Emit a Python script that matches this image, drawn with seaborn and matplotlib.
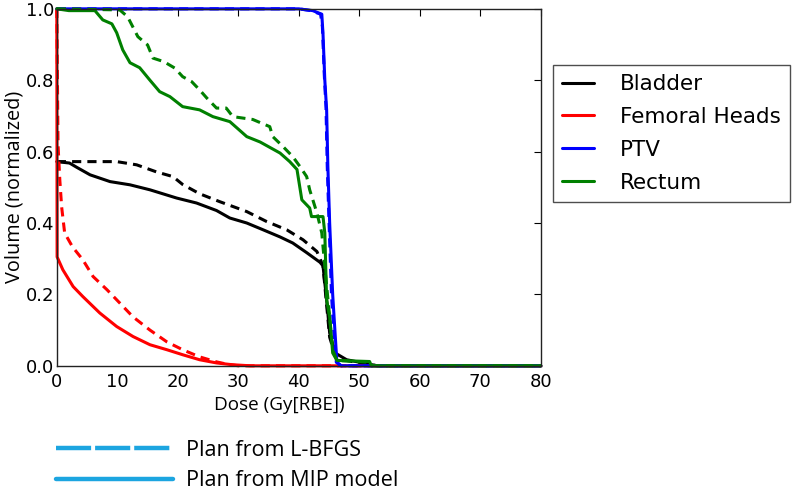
import pandas as pd
import matplotlib
matplotlib.use("Agg")
import matplotlib.pyplot as plt
from matplotlib.lines import Line2D
import seaborn as sns

# DVH curves: dose in Gy[RBE], volume normalized
bladder_mip_dose = [0, 2.1, 3.3, 5.5, 8.8, 12.1, 15.4, 19.8, 23.1, 26.4, 28.6, 31.4, 34.1, 36.9, 39, 41.3, 43.5, 44, 44.6, 45.1, 46, 47.9, 50.6, 53, 80]
bladder_mip_vol = [0.572, 0.568, 0.556, 0.535, 0.516, 0.507, 0.493, 0.47, 0.456, 0.435, 0.414, 0.40, 0.381, 0.361, 0.344, 0.317, 0.29, 0.28, 0.185, 0.092, 0.036, 0.017, 0.008, 0, 0]
bladder_lbfgs_dose = [0, 5, 9.9, 13.2, 16.5, 19.2, 20.8, 23.6, 26.9, 31.4, 34.7, 38, 40.7, 43, 44, 44.6, 45.1, 46, 47.9, 50.6, 53, 80]
bladder_lbfgs_vol = [0.572, 0.572, 0.572, 0.563, 0.543, 0.53, 0.508, 0.482, 0.46, 0.432, 0.404, 0.381, 0.353, 0.32, 0.28, 0.17, 0.08, 0.03, 0.015, 0.006, 0, 0]

femoral_mip_dose = [0, 0.05, 1, 2.7, 4.3, 7.1, 9.9, 12.6, 15.4, 18.2, 20.8, 23.6, 26.4, 29, 32, 80]
femoral_mip_vol = [1.0, 0.305, 0.269, 0.222, 0.194, 0.148, 0.11, 0.082, 0.059, 0.045, 0.031, 0.017, 0.008, 0.003, 0, 0]
femoral_lbfgs_dose = [0, 0.2, 0.5, 0.8, 1.3, 2.6, 4.3, 6, 8.3, 10.4, 12.6, 15.4, 18.2, 20.8, 23.6, 26.4, 28, 30, 80]
femoral_lbfgs_vol = [1.0, 0.62, 0.52, 0.445, 0.372, 0.333, 0.297, 0.25, 0.213, 0.176, 0.137, 0.10, 0.067, 0.045, 0.025, 0.011, 0.005, 0, 0]

ptv_mip_dose = [0, 40, 42.3, 43.8, 44, 44.3, 44.6, 44.8, 45.1, 45.6, 46, 46.3, 47, 80]
ptv_mip_vol = [1.0, 1.0, 0.995, 0.985, 0.93, 0.80, 0.717, 0.56, 0.40, 0.2, 0.09, 0.01, 0, 0]
ptv_lbfgs_dose = [0, 40, 42, 43.6, 43.9, 44.2, 44.5, 44.7, 45, 45.4, 45.8, 46.2, 47, 80]
ptv_lbfgs_vol = [1.0, 1.0, 0.995, 0.985, 0.95, 0.82, 0.72, 0.56, 0.40, 0.2, 0.09, 0.01, 0, 0]

rectum_mip_dose = [0, 2, 6.3, 7.6, 9.1, 9.9, 10.9, 12.1, 13.7, 15.4, 17, 18.7, 20.8, 23.6, 25.8, 28.6, 31.4, 33.6, 36.9, 38.5, 39.7, 40.5, 41.8, 42.1, 44, 44.3, 44.6, 45.1, 45.6, 46.3, 51.7, 52, 80]
rectum_mip_vol = [1.0, 0.995, 0.995, 0.969, 0.958, 0.933, 0.885, 0.849, 0.835, 0.80, 0.768, 0.754, 0.726, 0.717, 0.698, 0.684, 0.642, 0.627, 0.596, 0.572, 0.55, 0.465, 0.442, 0.418, 0.418, 0.372, 0.185, 0.137, 0.036, 0.015, 0.012, 0, 0]
rectum_lbfgs_dose = [0, 10.4, 11.7, 13.4, 15, 15.9, 17.7, 19.5, 20.8, 22.3, 23.6, 24.8, 26.4, 28, 29.1, 32.4, 35.2, 35.7, 37.4, 39, 40.2, 41.3, 41.8, 43, 43.8, 44.3, 45.1, 45.6, 46.3, 51.5, 52, 80]
rectum_lbfgs_vol = [1.0, 0.997, 0.978, 0.922, 0.899, 0.862, 0.852, 0.834, 0.81, 0.796, 0.773, 0.75, 0.722, 0.722, 0.698, 0.69, 0.67, 0.642, 0.614, 0.586, 0.558, 0.53, 0.493, 0.428, 0.372, 0.277, 0.137, 0.045, 0.015, 0.01, 0, 0]

structures = ["Bladder", "Femoral Heads", "PTV", "Rectum"]
colors = {"Bladder": "black", "Femoral Heads": "red", "PTV": "blue", "Rectum": "green"}
plans = ["Plan from L-BFGS", "Plan from MIP model"]
plan_color = "#1ca5e0"

curves = [
    ("Bladder", "Plan from L-BFGS", bladder_lbfgs_dose, bladder_lbfgs_vol),
    ("Bladder", "Plan from MIP model", bladder_mip_dose, bladder_mip_vol),
    ("Femoral Heads", "Plan from L-BFGS", femoral_lbfgs_dose, femoral_lbfgs_vol),
    ("Femoral Heads", "Plan from MIP model", femoral_mip_dose, femoral_mip_vol),
    ("PTV", "Plan from L-BFGS", ptv_lbfgs_dose, ptv_lbfgs_vol),
    ("PTV", "Plan from MIP model", ptv_mip_dose, ptv_mip_vol),
    ("Rectum", "Plan from L-BFGS", rectum_lbfgs_dose, rectum_lbfgs_vol),
    ("Rectum", "Plan from MIP model", rectum_mip_dose, rectum_mip_vol),
]

rows = []
for s, p, d, v in curves:
    for i in range(len(d)):
        rows.append({"Structure": s, "Plan": p, "Dose": d[i], "Volume": v[i]})
df = pd.DataFrame(rows)

sns.set_style("white")
plt.rcParams["font.family"] = ["DejaVu Sans"]
plt.rcParams["xtick.direction"] = "in"
plt.rcParams["ytick.direction"] = "in"
plt.rcParams["text.color"] = "black"
plt.rcParams["axes.labelcolor"] = "black"
plt.rcParams["xtick.color"] = "black"
plt.rcParams["ytick.color"] = "black"

fig = plt.figure(figsize=(8, 4.91), dpi=100)
ax = fig.add_axes([0.071, 0.255, 0.605, 0.727])

sns.lineplot(data=df, x="Dose", y="Volume", hue="Structure", style="Plan",
             hue_order=structures, style_order=plans, palette=colors,
             dashes={"Plan from L-BFGS": (3, 2), "Plan from MIP model": ""},
             estimator=None, sort=False, linewidth=2.2, legend=False, ax=ax)
for ln in ax.get_lines():
    ln.set_clip_on(False)

ax.set_xlim(0, 80)
ax.set_ylim(0, 1)
ax.set_xticks(range(0, 81, 10))
ax.set_yticks([0, 0.2, 0.4, 0.6, 0.8, 1.0])
ax.tick_params(top=True, right=True, length=5, width=0.8, labelsize=13)
ax.tick_params(axis="x", pad=5)
ax.tick_params(axis="y", pad=2)
for sp in ax.spines.values():
    sp.set_color("#222222")
    sp.set_linewidth(1.0)
ax.set_xlabel("Dose (Gy[RBE])", fontsize=13.6, family="Open Sans", labelpad=4)
ax.xaxis.set_label_coords(0.459, -0.085)
ax.set_ylabel("Volume (normalized)", fontsize=14.3, family="Open Sans", labelpad=1)

# legend for structures
handles = [Line2D([], [], color=colors[s], lw=2.2) for s in structures]
fig.legend(handles, structures, loc="upper left", bbox_to_anchor=(553 / 800, 1 - 65 / 491),
           borderaxespad=0, fontsize=15.5, frameon=True, fancybox=False, edgecolor="#222222",
           handlelength=1.5, handletextpad=1.2, labelspacing=0.6, borderpad=0.42)

# legend for the two plans, below the axes
plan_handles = [Line2D([], [], color=plan_color, lw=3.2, dashes=(7.9, 0.9)),
                Line2D([], [], color=plan_color, lw=3.2)]
fig.legend(plan_handles, plans, loc="upper left", bbox_to_anchor=(0.046, 1 - 420 / 491),
           frameon=False, handlelength=5.4, handletextpad=0.6, labelspacing=0.45,
           prop={"family": "Open Sans", "size": 15.6})

fig.savefig("out.png", dpi=100)
